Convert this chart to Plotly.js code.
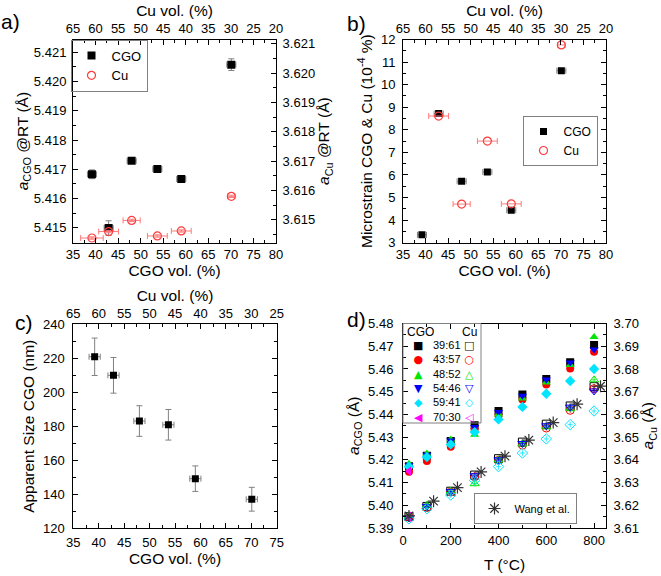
<!DOCTYPE html>
<html><head><meta charset="utf-8">
<script src="https://cdn.plot.ly/plotly-3.0.1.min.js"></script>
<style>html,body{margin:0;padding:0;background:#fff}#chart{width:661px;height:576px}</style>
</head><body><div id="chart"></div>
<script>
// ---------------- data ----------------
const cgoVol = [39.2, 42.9, 48.0, 53.7, 59.0, 70.1];
const cgoVolErr = [1.0, 1.0, 1.0, 1.0, 1.0, 1.0];
const cuVolErr = [2.5, 2.2, 1.9, 2.2, 2.2, 0.8];

// panel a: lattice parameters at RT
const aCgoRT = [5.41683, 5.41499, 5.41729, 5.41701, 5.41667, 5.42058];
const aCgoRTErr = [0.00015, 0.00025, 0.00006, 0.00006, 0.00006, 0.0002];
const aCuRT = [3.61438, 3.61460, 3.61498, 3.61445, 3.61462, 3.61580];
const aCuRTErr = [0.00004, 0.00004, 0.00004, 0.00004, 0.00004, 0.00004];

// panel b: microstrain (10^-4 %)
const strainCgo = [3.35, 8.72, 5.72, 6.13, 4.44, 10.62];
const strainCgoErr = [0.05, 0.05, 0.05, 0.05, 0.05, 0.05];
const strainCuVol = [42.9, 48.0, 53.7, 59.0, 70.1];
const strainCu = [8.61, 4.71, 7.50, 4.72, 11.76];
const strainCuXErr = [2.2, 1.9, 2.2, 2.2, 0.8];

// panel c: apparent size CGO (nm)
const sizeCgo = [220.9, 210.0, 183.1, 180.9, 149.2, 137.1];
const sizeCgoErr = [11, 10.5, 9, 9, 7.5, 7];

// panel d: lattice parameter vs temperature
const tempC = [25, 100, 200, 300, 400, 500, 600, 700, 800];
const ratioLabels = ['39:61', '43:57', '48:52', '54:46', '59:41', '70:30'];
const cgo3961 = [5.4172, 5.4218, 5.4283, 5.4352, 5.4415, 5.4488, 5.4556, 5.4630, 5.4705];
const cgo4357 = [5.4148, 5.4195, 5.4258, 5.4335, 5.4395, 5.4465, 5.4532, 5.4602, 5.4676];
const cgo4852 = [5.4183, 5.4228, 5.4290, 5.4310, 5.4400, 5.4470, 5.4540, 5.4617, 5.4741];
const cgo5446 = [5.4176, 5.4222, 5.4285, 5.4345, 5.4410, 5.4482, 5.4553, 5.4628, 5.4686];
const cgo5941 = [5.4170, 5.4212, 5.4268, 5.4322, 5.4378, 5.4433, 5.4491, 5.4547, 5.4600];
const cgo7030 = [5.4150];
const cu3961 = [3.6150, 3.6195, 3.6262, 3.6333, 3.6405, 3.6478, 3.6557, 3.6637, 3.6722];
const cu4357 = [3.6148, 3.6190, 3.6258, 3.6325, 3.6398, 3.6465, 3.6540, 3.6618, 3.6713];
const cu4852 = [3.6155, 3.6200, 3.6262, 3.6295, 3.6400, 3.6470, 3.6545, 3.6625, 3.6752];
const cu5446 = [3.6145, 3.6195, 3.6260, 3.6330, 3.6400, 3.6472, 3.6550, 3.6632, 3.6703];
const cu5941 = [3.6140, 3.6185, 3.6245, 3.6310, 3.6370, 3.6430, 3.6492, 3.6555, 3.6615];
const cu7030 = [3.6150];
const wangT = [25, 128, 228, 327, 427, 527, 629, 729, 827];
const wangCu = [3.6153, 3.6218, 3.6278, 3.6347, 3.6416, 3.6487, 3.6564, 3.6645, 3.6724];

// ---------------- styles ----------------
const F = 'Liberation Sans, Arial, sans-serif';
const GRAY = '#808080';
const RED = '#ff3b3b';
const seriesColors = ['#000000', '#ff0000', '#00e600', '#0000ff', '#00e5ff', '#ff00ff'];
const filledSymbols = ['square', 'circle', 'triangle-up', 'triangle-down', 'diamond', 'triangle-left'];
const openSymbols = ['square-open', 'circle-open', 'triangle-up-open', 'triangle-down-open', 'diamond-open', 'triangle-left-open'];
const filledGlyphs = ['■', '●', '▲', '▼', '◆', '◀'];
const openGlyphs = ['□', '○', '△', '▽', '◇', '◁'];
const cuVol = cgoVol.map(v => 100 - v);

function eb(arr, color, w) {
  return {type: 'data', array: arr, color: color, thickness: 1, width: (w === undefined ? 3 : w), visible: true};
}

const traces = [];
// ----- panel a -----
traces.push({type: 'scatter', mode: 'markers', x: cgoVol, y: aCgoRT, xaxis: 'x', yaxis: 'y', name: 'CGO',
  marker: {symbol: 'square', size: 8, color: '#000'},
  error_x: eb(cgoVolErr, GRAY), error_y: eb(aCgoRTErr, GRAY), legend: 'legend'});
traces.push({type: 'scatter', mode: 'markers', x: cgoVol, y: aCuRT, xaxis: 'x', yaxis: 'y2', name: 'Cu',
  marker: {symbol: 'circle-open', size: 8, color: RED, line: {width: 1.2}},
  error_x: eb(cuVolErr, '#ff7a7a'), error_y: eb(aCuRTErr, '#ff7a7a'), legend: 'legend'});
traces.push({type: 'scatter', mode: 'markers', x: cuVol, y: aCgoRT, xaxis: 'x2', yaxis: 'y',
  marker: {opacity: 0}, showlegend: false, hoverinfo: 'skip'});

// ----- panel b -----
traces.push({type: 'scatter', mode: 'markers', x: cgoVol, y: strainCgo, xaxis: 'x3', yaxis: 'y3', name: 'CGO',
  marker: {symbol: 'square', size: 7, color: '#000'},
  error_x: eb(cgoVolErr, GRAY), error_y: eb(strainCgoErr, GRAY), legend: 'legend2'});
traces.push({type: 'scatter', mode: 'markers', x: strainCuVol, y: strainCu, xaxis: 'x3', yaxis: 'y3', name: 'Cu',
  marker: {symbol: 'circle-open', size: 8, color: RED, line: {width: 1.2}},
  error_x: eb(strainCuXErr, '#ff7a7a'), legend: 'legend2'});
traces.push({type: 'scatter', mode: 'markers', x: cuVol, y: strainCgo, xaxis: 'x4', yaxis: 'y3',
  marker: {opacity: 0}, showlegend: false, hoverinfo: 'skip'});

// ----- panel c -----
traces.push({type: 'scatter', mode: 'markers', x: cgoVol, y: sizeCgo, xaxis: 'x5', yaxis: 'y4', name: 'CGO size',
  marker: {symbol: 'square', size: 7, color: '#000'}, showlegend: false,
  error_x: eb(cgoVolErr.map(v => v * 1.1), GRAY), error_y: eb(sizeCgoErr, GRAY)});
traces.push({type: 'scatter', mode: 'markers', x: cuVol, y: sizeCgo, xaxis: 'x6', yaxis: 'y4',
  marker: {opacity: 0}, showlegend: false, hoverinfo: 'skip'});

// ----- panel d -----
const cgoSeries = [cgo3961, cgo4357, cgo4852, cgo5446, cgo5941, cgo7030];
const cuSeries = [cu3961, cu4357, cu4852, cu5446, cu5941, cu7030];
cuSeries.forEach((ys, i) => {
  traces.push({type: 'scatter', mode: 'markers', x: tempC.slice(0, ys.length), y: ys, xaxis: 'x7', yaxis: 'y6',
    name: ratioLabels[i] + ' Cu', showlegend: false,
    marker: {symbol: openSymbols[i], size: 8, color: seriesColors[i], line: {width: 1}},
    error_x: {type: 'constant', value: 10, color: seriesColors[i], thickness: 0.8, width: 0},
    error_y: {type: 'constant', value: 0.0012, color: seriesColors[i], thickness: 0.8, width: 0}});
});
traces.push({type: 'scatter', mode: 'markers', x: wangT, y: wangCu, xaxis: 'x7', yaxis: 'y6', name: 'Wang et al.',
  marker: {symbol: 'asterisk-open', size: 10, color: '#333', line: {color: '#333', width: 1.2}}, legend: 'legend3'});
cgoSeries.forEach((ys, i) => {
  traces.push({type: 'scatter', mode: 'markers', x: tempC.slice(0, ys.length), y: ys, xaxis: 'x7', yaxis: 'y5',
    name: ratioLabels[i] + ' CGO', showlegend: false,
    marker: {symbol: filledSymbols[i], size: 8, color: seriesColors[i]}});
});

// ---------------- layout ----------------
const W = 661, H = 576;
const px = v => v / W, py = v => 1 - v / H;
function ax(extra) {
  return Object.assign({
    showline: true, linecolor: '#000', linewidth: 1, zeroline: false, showgrid: false,
    ticks: 'inside', ticklen: 5, tickwidth: 1, tickcolor: '#000',
    tickfont: {family: F, size: 13, color: '#000'}, fixedrange: true
  }, extra);
}
function mn(d) { return {dtick: d, ticklen: 3, ticks: 'inside', tickcolor: '#000'}; }
function ttl(text, standoff) {
  return {text: text, font: {family: F, size: 15.5, color: '#000'}, standoff: standoff};
}
const domA = [px(73), px(276)], domB = [px(403), px(606)];
const rowTop = [py(242.7), py(39.5)], rowBot = [py(528), py(323.5)];

const layout = {
  width: W, height: H, margin: {l: 0, r: 0, t: 0, b: 0}, paper_bgcolor: '#fff', plot_bgcolor: '#fff',
  font: {family: F, color: '#000'}, hovermode: false,
  // panel a
  xaxis: ax({domain: domA, anchor: 'y', range: [35, 80], dtick: 5, tick0: 35, ticklabelstandoff: 0,
    minor: mn(2.5), title: ttl('CGO vol. (%)', 0)}),
  xaxis2: ax({overlaying: 'x', side: 'top', anchor: 'y', range: [65, 20], dtick: 5, tick0: 20, ticklabelstandoff: 0,
    minor: mn(2.5), title: ttl('Cu vol. (%)', 0)}),
  yaxis: ax({domain: rowTop, anchor: 'x', range: [5.41449, 5.42144], dtick: 0.001, tick0: 5.415, tickformat: '.3f',
    ticklabelstandoff: 3, minor: mn(0.0005), title: ttl('<i>a</i><sub>CGO</sub> @RT (Å)', 1)}),
  yaxis2: ax({overlaying: 'y', side: 'right', anchor: 'x', range: [3.61422, 3.62115], dtick: 0.001, tick0: 3.615,
    tickformat: '.3f', ticklabelstandoff: 3, minor: mn(0.0005),
    title: ttl('<i>a</i><sub>Cu</sub> @RT (Å)', 4)}),
  // panel b
  xaxis3: ax({domain: domB, anchor: 'y3', range: [35, 80], dtick: 5, tick0: 35, ticklabelstandoff: 0,
    minor: mn(2.5), title: ttl('CGO vol. (%)', 0)}),
  xaxis4: ax({overlaying: 'x3', side: 'top', anchor: 'y3', range: [65, 20], dtick: 5, tick0: 20, ticklabelstandoff: 0,
    minor: mn(2.5), title: ttl('Cu vol. (%)', 0)}),
  yaxis3: ax({domain: rowTop, anchor: 'x3', range: [3, 12], dtick: 1, tick0: 3, mirror: 'ticks', ticklabelstandoff: 4,
    minor: mn(0.5), title: ttl('Microstrain CGO & Cu (10<sup>-4</sup> %)', 4)}),
  // panel c
  xaxis5: ax({domain: [px(73.3), px(276.7)], anchor: 'y4', range: [35, 75], dtick: 5, tick0: 35, ticklabelstandoff: 2,
    minor: mn(2.5), title: ttl('CGO vol. (%)', 0)}),
  xaxis6: ax({overlaying: 'x5', side: 'top', anchor: 'y4', range: [65, 25], dtick: 5, tick0: 25, ticklabelstandoff: 0,
    minor: mn(2.5), title: ttl('Cu vol. (%)', 0)}),
  yaxis4: ax({domain: [py(528.3), py(324.3)], anchor: 'x5', range: [120, 240], dtick: 20, tick0: 120, mirror: 'ticks',
    ticklabelstandoff: 5, minor: mn(10), title: ttl('Apparent Size CGO (nm)', 4)}),
  // panel d
  xaxis7: ax({domain: domB, anchor: 'y5', range: [0, 850], dtick: 200, tick0: 0, mirror: 'ticks', ticklabelstandoff: 0,
    minor: mn(100), title: ttl('T (°C)', 12)}),
  yaxis5: ax({domain: rowBot, anchor: 'x7', range: [5.39, 5.48], dtick: 0.01, tick0: 5.39, tickformat: '.2f',
    ticklabelstandoff: 6, minor: mn(0.005), title: ttl('<i>a</i><sub>CGO</sub> (Å)', 4)}),
  yaxis6: ax({overlaying: 'y5', side: 'right', anchor: 'x7', range: [3.61, 3.70], dtick: 0.01, tick0: 3.61,
    tickformat: '.2f', ticklabelstandoff: 4, minor: mn(0.005),
    title: ttl('<i>a</i><sub>Cu</sub> (Å)', 4)}),
  legend: {x: px(109), y: py(65.5), xanchor: 'center', yanchor: 'middle', bordercolor: GRAY, borderwidth: 1,
    bgcolor: 'rgba(255,255,255,0)', font: {family: F, size: 13}, itemwidth: 30, tracegroupgap: 0},
  legend2: {x: px(560), y: py(141), xanchor: 'center', yanchor: 'middle', bordercolor: GRAY, borderwidth: 1,
    bgcolor: 'rgba(255,255,255,0)', font: {family: F, size: 12}, itemwidth: 30, tracegroupgap: 0},
  legend3: {x: px(525), y: py(508.5), xanchor: 'center', yanchor: 'middle', bordercolor: GRAY, borderwidth: 1,
    bgcolor: 'rgba(255,255,255,0)', font: {family: F, size: 11}, itemwidth: 30, tracegroupgap: 0},
  shapes: [
    {type: 'rect', xref: 'paper', yref: 'paper', x0: px(403), x1: px(481), y0: py(423), y1: py(323.5),
      line: {color: GRAY, width: 1}}
  ],
  annotations: []
};

// panel labels
[['a)', 10, 22], ['b)', 356, 24], ['c)', 24, 322], ['d)', 356, 319]].forEach(([t, x, y]) => {
  layout.annotations.push({text: t, xref: 'paper', yref: 'paper', x: px(x), y: py(y), showarrow: false,
    xanchor: 'center', yanchor: 'middle', font: {family: F, size: 21, color: '#000'}});
});
// panel d two-column legend (CGO filled / Cu open)
layout.annotations.push({text: 'CGO', xref: 'paper', yref: 'paper', x: px(405), y: py(331.5), xanchor: 'left',
  yanchor: 'middle', showarrow: false, font: {family: F, size: 12}});
layout.annotations.push({text: 'Cu', xref: 'paper', yref: 'paper', x: px(470), y: py(331.5), xanchor: 'center',
  yanchor: 'middle', showarrow: false, font: {family: F, size: 12}});
const legRowsMid = py(381);
layout.annotations.push({text: filledGlyphs.map((g, i) => '<span style="color:' + seriesColors[i] + '">' + g + '</span>').join('<br>'),
  xref: 'paper', yref: 'paper', x: px(418), y: legRowsMid, xanchor: 'center', yanchor: 'middle', showarrow: false,
  font: {family: 'DejaVu Sans', size: 11}});
layout.annotations.push({text: ratioLabels.join('<br>'), xref: 'paper', yref: 'paper', x: px(431), y: legRowsMid,
  xanchor: 'left', yanchor: 'middle', showarrow: false, align: 'left', font: {family: F, size: 11}});
layout.annotations.push({text: openGlyphs.map((g, i) => '<span style="color:' + seriesColors[i] + '">' + g + '</span>').join('<br>'),
  xref: 'paper', yref: 'paper', x: px(469), y: legRowsMid, xanchor: 'center', yanchor: 'middle', showarrow: false,
  font: {family: 'DejaVu Sans', size: 11}});

Plotly.newPlot('chart', traces, layout, {displayModeBar: false, staticPlot: true});
</script>
</body></html>
